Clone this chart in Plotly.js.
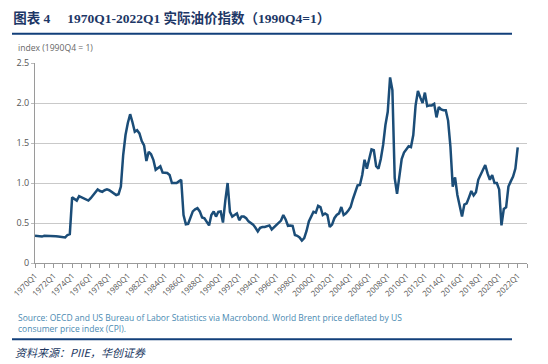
<!DOCTYPE html>
<html>
<head>
<meta charset="utf-8">
<script src="https://cdn.plot.ly/plotly-3.0.1.min.js"></script>
<style>
html,body{margin:0;padding:0;background:#fff;}
#chart{width:548px;height:364px;}
</style>
</head>
<body>
<div id="chart"></div>
<script>
// Data: real oil price index (1990Q4 = 1), quarterly 1970Q1 .. 2022Q1
const startYear = 1970;
const realOilIndex = [
  0.34, 0.335, 0.33, 0.33,      // 1970
  0.34, 0.34, 0.338, 0.336,     // 1971
  0.335, 0.333, 0.33, 0.328,    // 1972
  0.325, 0.32, 0.35, 0.36,      // 1973
  0.82, 0.80, 0.78, 0.835,      // 1974
  0.82, 0.81, 0.79, 0.78,       // 1975
  0.81, 0.85, 0.88, 0.92,       // 1976
  0.90, 0.89, 0.91, 0.92,       // 1977
  0.91, 0.89, 0.87, 0.85,       // 1978
  0.86, 0.955, 1.35, 1.60,      // 1979
  1.75, 1.86, 1.76, 1.64,       // 1980
  1.66, 1.62, 1.525, 1.47,      // 1981
  1.275, 1.39, 1.36, 1.29,      // 1982
  1.165, 1.19, 1.21, 1.13,      // 1983
  1.13, 1.125, 1.10, 1.0,       // 1984
  1.0, 1.0, 1.02, 1.04,         // 1985
  0.60, 0.485, 0.49, 0.56,      // 1986
  0.645, 0.67, 0.685, 0.645,    // 1987
  0.57, 0.56, 0.52, 0.47,       // 1988
  0.60, 0.645, 0.58, 0.64,      // 1989
  0.645, 0.505, 0.78, 1.0,      // 1990
  0.64, 0.58, 0.60, 0.62,       // 1991
  0.535, 0.58, 0.58, 0.56,      // 1992
  0.52, 0.50, 0.48, 0.44,       // 1993
  0.395, 0.44, 0.45, 0.45,      // 1994
  0.46, 0.47, 0.42, 0.45,       // 1995
  0.47, 0.50, 0.53, 0.60,       // 1996
  0.545, 0.465, 0.47, 0.465,    // 1997
  0.35, 0.34, 0.32, 0.28,       // 1998
  0.31, 0.40, 0.52, 0.58,       // 1999
  0.64, 0.63, 0.715, 0.70,      // 2000
  0.60, 0.62, 0.60, 0.45,       // 2001
  0.48, 0.56, 0.60, 0.62,       // 2002
  0.70, 0.60, 0.62, 0.655,      // 2003
  0.70, 0.80, 0.89, 0.97,       // 2004
  0.975, 1.10, 1.29, 1.18,      // 2005
  1.30, 1.42, 1.41, 1.21,       // 2006
  1.18, 1.30, 1.475, 1.725,     // 2007
  1.89, 2.32, 2.16, 1.06,       // 2008
  0.865, 1.10, 1.30, 1.38,      // 2009
  1.42, 1.46, 1.45, 1.60,       // 2010
  1.97, 2.15, 2.07, 2.0,        // 2011
  2.13, 1.96, 1.97, 1.97,       // 2012
  1.99, 1.82, 1.95, 1.92,       // 2013
  1.91, 1.91, 1.78, 1.455,      // 2014
  0.955, 1.07, 0.85, 0.72,      // 2015
  0.58, 0.73, 0.745, 0.82,      // 2016
  0.90, 0.845, 0.885, 1.04,     // 2017
  1.10, 1.165, 1.225, 1.12,     // 2018
  1.04, 1.10, 1.0, 1.0,         // 2019
  0.92, 0.47, 0.675, 0.695,     // 2020
  0.955, 1.02, 1.08, 1.18,      // 2021
  1.445                         // 2022Q1
];
const tickYears = [];
for (let y = 1970; y <= 2023; y++) tickYears.push(y);
const yTicks = [0, 0.5, 1.0, 1.5, 2.0, 2.5];
const yTickLabels = ['0', '0.5', '1.0', '1.5', '2.0', '2.5'];

const titleText = '图表 4\u00a0\u00a0\u00a0\u00a0\u00a01970Q1-2022Q1 实际油价指数（1990Q4=1）';
const yLabel = 'index (1990Q4 = 1)';
const sourceText = 'Source: OECD and US Bureau of Labor Statistics via Macrobond. World Brent price deflated by US<br>consumer price index (CPI).';
const footerText = '资料来源：PIIE，华创证券';

// Build x from quarter indices
const xIdx = realOilIndex.map((v, i) => i);
const qLabels = realOilIndex.map((v, i) => (startYear + Math.floor(i / 4)) + 'Q' + (i % 4 + 1));
const tickVals = tickYears.map(y => (y - startYear) * 4);
const tickText = tickYears.map(y => ((y - startYear) % 2 === 0 && y <= 2022) ? y + 'Q1' : '');

const trace = {
  x: xIdx,
  y: realOilIndex,
  text: qLabels,
  type: 'scatter',
  mode: 'lines',
  line: {color: '#1b4d78', width: 2.5, shape: 'linear'},
  hoverinfo: 'text+y'
};

const navy = '#123f7a';
const layout = {
  width: 548, height: 364,
  margin: {l: 35, r: 21, t: 63, b: 101},
  paper_bgcolor: '#fff', plot_bgcolor: '#fff',
  showlegend: false,
  title: {
    text: '<b>' + titleText + '</b>',
    xref: 'container', yref: 'container',
    x: 0.024, xanchor: 'left',
    y: 1 - 18/364, yanchor: 'middle',
    font: {family: '"Liberation Serif", "Noto Sans CJK SC", serif', size: 13.5, color: '#1d3766'}
  },
  xaxis: {
    type: 'linear',
    range: [0, 212],
    tickmode: 'array',
    tickvals: tickVals,
    ticktext: tickText,
    tickangle: -45,
    ticks: 'outside', ticklen: 4, tickcolor: '#9a9a9a', tickwidth: 1,
    showline: true, linecolor: '#9a9a9a', linewidth: 1,
    showgrid: false, zeroline: false,
    tickfont: {family: '"Open Sans", sans-serif', size: 8, color: '#555'}
  },
  yaxis: {
    range: [0, 2.5],
    tickmode: 'array',
    tickvals: yTicks,
    ticktext: yTickLabels,
    ticks: 'outside', ticklen: 3, tickcolor: '#bbbbbb',
    showline: true, linecolor: '#9a9a9a', linewidth: 1,
    showgrid: true, gridcolor: '#c9c9c9', gridwidth: 1,
    zeroline: false,
    tickfont: {family: '"Open Sans", sans-serif', size: 9, color: '#555'}
  },
  annotations: [
    {text: yLabel, xref: 'paper', yref: 'paper', x: (16 - 35) / 492, y: (263.3 - 48) / 200,
     xanchor: 'left', yanchor: 'middle', showarrow: false,
     font: {family: '"Open Sans", sans-serif', size: 8.6, color: '#666'}},
    {text: sourceText, xref: 'paper', yref: 'paper', x: (16 - 35) / 492, y: (263.3 - 323) / 200,
     xanchor: 'left', yanchor: 'middle', align: 'left', showarrow: false,
     font: {family: '"Open Sans", sans-serif', size: 8.5, color: '#4a8ab2'}},
    {text: '<i>' + footerText + '</i>', xref: 'paper', yref: 'paper', x: (13 - 35) / 492, y: (263.3 - 352) / 200,
     xanchor: 'left', yanchor: 'middle', showarrow: false,
     font: {family: '"Noto Sans CJK SC", sans-serif', size: 11, color: '#22385f'}}
  ],
  shapes: [
    {type: 'line', xref: 'paper', yref: 'paper', x0: (12 - 35) / 492, x1: (512 - 35) / 492,
     y0: (263.3 - 34) / 200, y1: (263.3 - 34) / 200, line: {color: navy, width: 2}},
    {type: 'line', xref: 'paper', yref: 'paper', x0: (12 - 35) / 492, x1: (512 - 35) / 492,
     y0: (263.3 - 339.5) / 200, y1: (263.3 - 339.5) / 200, line: {color: navy, width: 2}}
  ]
};

Plotly.newPlot('chart', [trace], layout, {displayModeBar: false, staticPlot: true});
</script>
</body>
</html>
